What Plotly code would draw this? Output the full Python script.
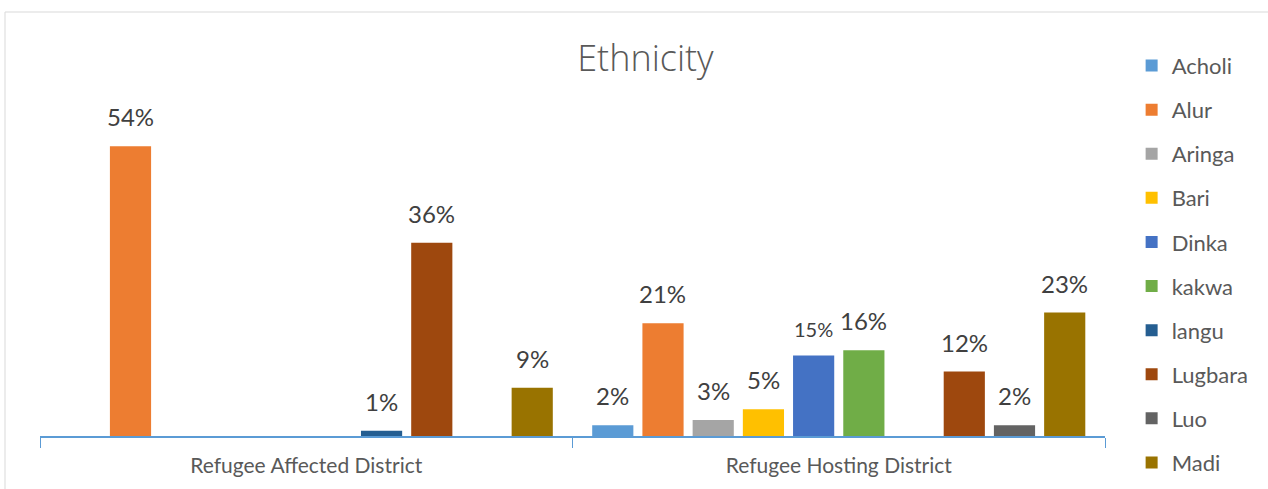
import plotly.graph_objects as go

# Data: share of respondents by ethnicity in each district type (percent)
categories = ["Refugee Affected District", "Refugee Hosting District"]
ethnicities = ["Acholi", "Alur", "Aringa", "Bari", "Dinka", "kakwa", "langu", "Lugbara", "Luo", "Madi"]
acholi = [0, 2]
alur = [54, 21]
aringa = [0, 3]
bari = [0, 5]
dinka = [0, 15]
kakwa = [0, 16]
langu = [1, 0]
lugbara = [36, 12]
luo = [0, 2]
madi = [9, 23]
series_values = [acholi, alur, aringa, bari, dinka, kakwa, langu, lugbara, luo, madi]
colors = ["#5B9BD5", "#ED7D31", "#A5A5A5", "#FFC000", "#4472C4",
          "#70AD47", "#255E91", "#9E480E", "#636363", "#997300"]

W, H = 1268, 489
ML, MR, MT, MB = 40, 163, 114, 53
BARGAP, BARGROUPGAP = 0.057, 0.18
YMAX = 60

font_family = "Lato, 'Open Sans', sans-serif"
text_grey = "#595959"
label_grey = "#404040"

fig = go.Figure()
for name, vals, col in zip(ethnicities, series_values, colors):
    fig.add_trace(go.Bar(
        name=name, x=categories, y=vals,
        marker=dict(color=col, line=dict(width=0)),
        legendgroup=name,
        hoverinfo="x+y+name",
    ))

# Data labels above each non-zero bar
plot_w = W - ML - MR
cat_w = plot_w / len(categories)
slot_w = cat_w * (1 - BARGAP) / len(ethnicities)
n = len(ethnicities)
annotations = []
for i, (name, vals) in enumerate(zip(ethnicities, series_values)):
    for cat, v in zip(categories, vals):
        if v <= 0:
            continue
        size = 20 if (name == "Dinka" and v == 15) else 24
        annotations.append(dict(
            x=cat, y=v, xref="x", yref="y",
            text=f"{v}%", showarrow=False,
            xshift=(i - (n - 1) / 2) * slot_w,
            yanchor="bottom", yshift=13,
            font=dict(family=font_family, size=size, color=label_grey),
        ))

fig.update_layout(
    width=W, height=H,
    margin=dict(l=ML, r=MR, t=MT, b=MB, pad=0),
    paper_bgcolor="white", plot_bgcolor="white",
    barmode="group", bargap=BARGAP, bargroupgap=BARGROUPGAP,
    title=dict(text="Ethnicity", x=0.509, xanchor="center", y=1 - 58 / H, yanchor="middle",
               font=dict(family="'Open Sans', sans-serif", size=36, color=text_grey, weight=300)),
    xaxis=dict(
        showline=True, linecolor="#5B9BD5", linewidth=2,
        ticks="outside", tickson="boundaries", ticklen=10, tickcolor="#5B9BD5", tickwidth=1,
        ticklabelstandoff=10,
        tickfont=dict(family=font_family, size=21, color=text_grey),
        showgrid=False, zeroline=False, fixedrange=True,
    ),
    yaxis=dict(range=[0, YMAX], visible=False, showgrid=False, zeroline=False, fixedrange=True),
    legend=dict(
        x=1.025, xanchor="left", y=1.215, yanchor="top",
        font=dict(family=font_family, size=22, color=text_grey),
        tracegroupgap=12.5, itemclick=False, itemdoubleclick=False,
        bgcolor="rgba(0,0,0,0)", maxheight=489,
    ),
    annotations=annotations,
    shapes=[dict(type="rect", xref="paper", yref="paper",
                 x0=(5 - ML) / plot_w, x1=2, y0=-1, y1=(H - MB - 12) / (H - MT - MB),
                 line=dict(color="#D9D9D9", width=1), fillcolor="rgba(0,0,0,0)", layer="below")],
)

fig.write_html("out.html")
